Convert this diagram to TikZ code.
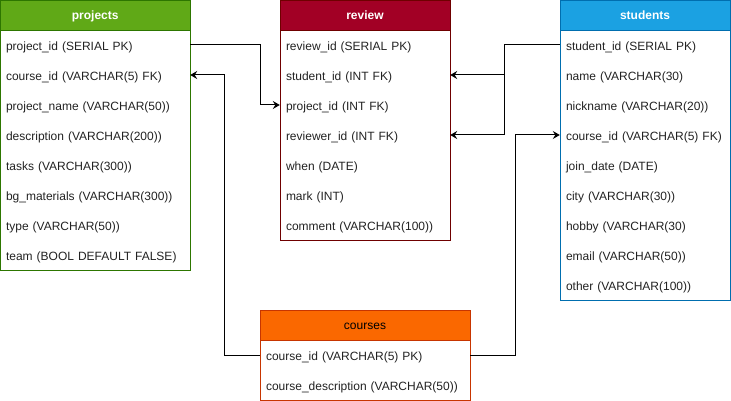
\documentclass[tikz,border=0pt]{standalone}
\usepackage{fontspec}
\setmainfont{Liberation Sans}
\usetikzlibrary{arrows.meta}
\definecolor{projfill}{HTML}{60A917}
\definecolor{projline}{HTML}{2D7600}
\definecolor{revfill}{HTML}{A20025}
\definecolor{revline}{HTML}{6F0000}
\definecolor{stufill}{HTML}{1BA1E2}
\definecolor{stuline}{HTML}{006EAF}
\definecolor{coufill}{HTML}{FA6800}
\definecolor{couline}{HTML}{C73500}
\definecolor{fieldtext}{HTML}{222222}
\tikzset{
    field/.style={text width=158pt, inner xsep=6pt, inner ysep=0pt, minimum height=30pt,
        text height=12pt, text depth=1pt,
        align=left, text=fieldtext, font=\fontsize{12}{14}\selectfont},
    head/.style={draw, line width=1pt, minimum height=30pt, inner sep=0pt, text=white,
        text height=10pt, text depth=1pt,
        font=\fontsize{12}{14}\selectfont\bfseries},
    link/.style={-{Stealth[length=7pt,width=8pt,inset=2.5pt]}, line width=1pt}
}
\begin{document}
\begin{tikzpicture}[x=1pt,y=-1pt]
    \useasboundingbox (0,0) rectangle (731,401);
    % projects
    \draw[projline, line width=1pt] (0.5,0.5) rectangle (190,270);
    \node[head, fill=projfill, draw=projline, minimum width=189.5pt] (projects) at (95.25,15.25) {projects};
    \begin{scope}[field/.append style={text width=178pt}]
    \node[field] (ppid) at (95,45) {project\_id (SERIAL PK)};
    \node[field] (pcid) at (95,75) {course\_id (VARCHAR(5) FK)};
    \node[field] (pname) at (95,105) {project\_name (VARCHAR(50))};
    \node[field] (pdesc) at (95,135) {description (VARCHAR(200))};
    \node[field] (ptask) at (95,165) {tasks (VARCHAR(300))};
    \node[field] (pbg) at (95,195) {bg\_materials (VARCHAR(300))};
    \node[field] (ptype) at (95,225) {type (VARCHAR(50))};
    \node[field] (pteam) at (95,255) {team (BOOL DEFAULT FALSE)};
    \end{scope}
    % review
    \draw[revline, line width=1pt] (280,0.5) rectangle (450,240);
    \node[head, fill=revfill, draw=revline, minimum width=170pt] (review) at (365,15.25) {review};
    \node[field] (rrid) at (365,45) {review\_id (SERIAL PK)};
    \node[field] (rsid) at (365,75) {student\_id (INT FK)};
    \node[field] (rpid) at (365,105) {project\_id (INT FK)};
    \node[field] (rvid) at (365,135) {reviewer\_id (INT FK)};
    \node[field] (rwhen) at (365,165) {when (DATE)};
    \node[field] (rmark) at (365,195) {mark (INT)};
    \node[field] (rcom) at (365,225) {comment (VARCHAR(100))};
    % students
    \draw[stuline, line width=1pt] (560,0.5) rectangle (730,300);
    \node[head, fill=stufill, draw=stuline, minimum width=170pt] (students) at (645,15.25) {students};
    \node[field] (ssid) at (645,45) {student\_id (SERIAL PK)};
    \node[field] (sname) at (645,75) {name (VARCHAR(30)};
    \node[field] (snick) at (645,105) {nickname (VARCHAR(20))};
    \node[field] (scid) at (645,135) {course\_id (VARCHAR(5) FK)};
    \node[field] (sjoin) at (645,165) {join\_date (DATE)};
    \node[field] (scity) at (645,195) {city (VARCHAR(30))};
    \node[field] (shob) at (645,225) {hobby (VARCHAR(30)};
    \node[field] (smail) at (645,255) {email (VARCHAR(50))};
    \node[field] (soth) at (645,285) {other (VARCHAR(100))};
    % courses
    \draw[couline, line width=1pt] (260,310) rectangle (470,400);
    \node[head, fill=coufill, draw=couline, text=black, font=\fontsize{12}{14}\selectfont,
        minimum width=210pt] (courses) at (365,325) {courses};
    \begin{scope}[field/.append style={text width=198pt}]
    \node[field] (ccid) at (365,355) {course\_id (VARCHAR(5) PK)};
    \node[field] (cdesc) at (365,385) {course\_description (VARCHAR(50))};
    \end{scope}
    % links
    \draw[link] (ppid.east) -- ++(70,0) |- (rpid.west);
    \draw[link] (ccid.west) -- ++(-35,0) |- (pcid.east);
    \draw[link] (ssid.west) -- ++(-55,0) |- (rsid.east);
    \draw[link] (ssid.west) -- ++(-55,0) |- (rvid.east);
    \draw[link] (ccid.east) -- ++(45,0) |- (scid.west);
\end{tikzpicture}
\end{document}
